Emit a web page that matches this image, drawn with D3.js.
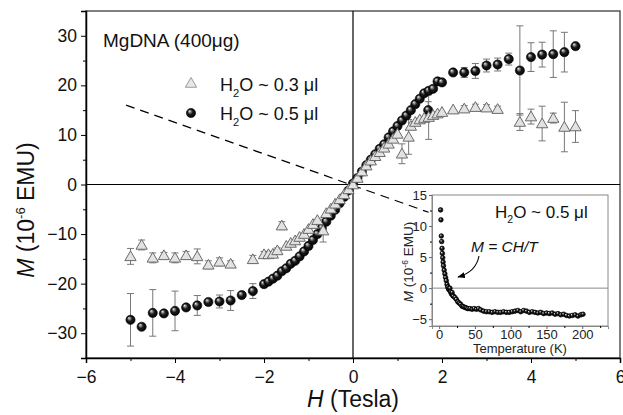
<!DOCTYPE html>
<html>
<head>
<meta charset="utf-8">
<script src="https://cdn.jsdelivr.net/npm/d3@7"></script>
<style>
  body { margin: 0; background: #fff; }
  svg { display: block; font-family: "Liberation Sans", Arial, sans-serif; }
</style>
</head>
<body>
<svg id="chart" width="623" height="415"></svg>
<script>
// ---- data: H2O ~ 0.5 ul (spheres) ----
const ballH = [-5, -4.75, -4.5, -4.25, -4, -3.75, -3.5, -3.25, -3, -2.75, -2.5, -2.25, -2,
  -1.9, -1.8, -1.7, -1.6, -1.5, -1.4, -1.3, -1.2, -1.1, -1, -0.9, -0.8, -0.7, -0.6, -0.5,
  -0.4, -0.3, -0.2, -0.1, 0, 0.1, 0.2, 0.3, 0.4, 0.5, 0.6, 0.7, 0.8, 0.9, 1, 1.1, 1.2, 1.3,
  1.4, 1.5, 1.6, 1.69, 1.7, 1.8, 1.9, 2, 2.25, 2.5, 2.75, 3, 3.25, 3.5, 3.75, 4, 4.25, 4.5,
  4.75, 5];
const ballM = [-27.3, -28.7, -25.9, -26.0, -25.5, -24.8, -24.4, -23.7, -23.6, -23.4, -22.3, -21.5, -20.1,
  -19.6, -19.0, -18.4, -17.5, -16.9, -16.0, -15.4, -14.5, -13.5, -12.4, -11.2, -10.0, -8.8, -7.5, -6.3,
  -5.1, -3.8, -2.5, -1.2, 0.2, 1.3, 2.6, 3.9, 5.0, 6.1, 7.2, 8.1, 9.5, 10.7, 11.8, 12.9, 13.9, 15.0,
  16.2, 17.3, 18.4, 15.0, 18.9, 19.3, 20.8, 20.6, 22.6, 22.6, 22.9, 24.0, 24.2, 25.3, 23.0, 25.7, 26.2, 26.3,
  26.7, 27.9];
const ballErr = [5.3, 0, 4.7, 0, 4.0, 0, 2.0, 0, 1.3, 2.0, 0, 1.5, 0,
  0, 0, 0, 0, 0, 0, 0, 0, 0, 0, 0, 0, 0, 0, 0,
  0, 0, 0, 0, 0, 0, 0, 0, 0, 0, 0, 0, 0, 0, 0, 0, 0, 0,
  0, 0, 0, 1.7, 0, 0, 0, 0, 0, 1.0, 1.5, 1.3, 1.3, 1.2, 9.0, 2.9, 2.5, 4.7,
  4.0, 0];

// ---- data: H2O ~ 0.3 ul (triangles) ----
const triH = [-5, -4.75, -4.5, -4.25, -4, -3.75, -3.5, -3.25, -3, -2.75, -2.25, -2, -1.9, -1.8,
  -1.7, -1.6, -1.5, -1.4, -1.3, -1.2, -1.1, -1, -0.9, -0.8, -0.67, -0.6, -0.5, -0.4, -0.3, -0.2,
  -0.1, 0, 0.1, 0.2, 0.3, 0.4, 0.5, 0.6, 0.7, 0.8, 0.9, 1, 1.1, 1.25, 1.3, 1.4, 1.5, 1.6, 1.7,
  1.8, 1.9, 2, 2.25, 2.5, 2.75, 3, 3.25, 3.75, 4, 4.25, 4.5, 4.75, 5];
const triM = [-14.5, -12.2, -14.8, -14.3, -14.8, -14.3, -14.5, -16.2, -15.6, -16.0, -15.1, -14.1, -14.1, -14.0,
  -13.3, -8.3, -12.4, -11.8, -11.3, -10.6, -10.0, -9.0, -8.0, -7.2, -9.3, -5.8, -4.9, -3.9, -3.0, -2.0,
  -1.0, 0.0, 1.3, 2.6, 3.8, 4.8, 5.7, 6.5, 7.4, 8.2, 9.2, 10.2, 6.2, 9.6, 11.8, 12.6, 13.1, 13.4, 13.6,
  14.0, 14.3, 14.6, 15.1, 15.3, 15.6, 15.5, 15.2, 12.6, 13.7, 12.3, 13.4, 11.6, 11.7];
const triErr = [1.6, 1.0, 1.0, 0.6, 1.0, 0.8, 1.5, 0.8, 0.8, 0.6, 0.8, 0.6, 0.6, 0,
  0.5, 0.8, 0, 0, 0, 0, 0, 0, 0, 0, 2.3, 0, 0, 0, 0, 0,
  0, 0, 0, 0, 0, 0, 0, 0, 0, 0, 0, 0, 2.0, 3.5, 0, 0, 0, 0, 4.5,
  0, 0, 0, 0, 0.6, 0.6, 0.6, 0.6, 1.7, 1.5, 3.5, 1.0, 5.0, 3.2];

// ---- inset: M vs temperature ----
const insetT = [2, 2.5, 3, 3.5, 4, 4.5, 5, 5.5, 6, 7, 8, 9, 10, 11, 12, 13, 14, 15, 16, 17, 18,
  19, 20, 22, 24, 26, 28, 30, 32, 34, 36, 38, 40, 43, 46, 49, 52, 55, 58, 62, 66, 70, 74, 78,
  82, 86, 90, 94, 98, 102, 106, 110, 114, 118, 122, 126, 130, 134, 138, 142, 146, 150, 154,
  158, 162, 166, 170, 174, 178, 182, 186, 190, 194, 198, 201];
const insetM = [12.6, 11.0, 8.4, 7.5, 6.4, 5.6, 4.9, 4.2, 3.6, 2.9, 2.3, 1.7, 1.2, 0.6, 0.2, -0.1, -0.3,
  0.0, -0.6, -0.9, -0.7, -1.2, -1.3, -1.5, -1.8, -2.2, -2.4, -2.6, -2.9, -3.0, -3.1, -3.2, -3.3, -3.3, -3.4,
  -3.3, -3.4, -3.3, -3.5, -3.7, -3.8, -3.8, -3.9, -3.8, -3.9, -3.9, -3.8, -3.9, -3.9, -3.8, -3.7, -3.6,
  -3.8, -3.6, -3.7, -3.9, -3.8, -3.9, -4.0, -3.9, -4.1, -4.0, -4.1, -4.0, -4.2, -4.1, -4.3, -4.2, -4.4,
  -4.5, -4.4, -4.3, -4.5, -4.3, -4.2];

const xTicks = [-6, -4, -2, 0, 2, 4, 6];
const yTicks = [-30, -20, -10, 0, 10, 20, 30];
const insetXTicks = [0, 50, 100, 150, 200];
const insetYTicks = [-5, 0, 5, 10, 15];

const svg = d3.select("#chart");
const margin = { top: 11, right: 3, bottom: 57, left: 86 };
const W = 623, H = 415;
const FONT = "'Liberation Sans', Arial, sans-serif";

const x = d3.scaleLinear().domain([-6, 6]).range([margin.left, W - margin.right]);
const y = d3.scaleLinear().domain([-35, 35]).range([H - margin.bottom, margin.top]);

// sphere gradient
const defs = svg.append("defs");
const grad = defs.append("radialGradient").attr("id", "ball")
  .attr("cx", "50%").attr("cy", "50%").attr("r", "55%")
  .attr("fx", "32%").attr("fy", "28%");
grad.append("stop").attr("offset", "0%").attr("stop-color", "#f4f4f4");
grad.append("stop").attr("offset", "22%").attr("stop-color", "#8a8a8a");
grad.append("stop").attr("offset", "50%").attr("stop-color", "#1a1a1a");
grad.append("stop").attr("offset", "100%").attr("stop-color", "#000");

// frame
svg.append("rect")
  .attr("x", x(-6)).attr("y", y(35))
  .attr("width", x(6) - x(-6)).attr("height", y(-35) - y(35))
  .attr("fill", "none").attr("stroke", "#555").attr("stroke-width", 1.5);

// axes
svg.append("g")
  .attr("transform", `translate(0,${y(-35)})`)
  .call(d3.axisBottom(x).tickValues(xTicks).tickFormat(d3.format("d")).tickSize(5).tickPadding(8));
svg.append("g")
  .attr("transform", `translate(0,${y(-35)})`)
  .call(d3.axisBottom(x).tickValues([-5, -3, -1, 1, 3, 5]).tickFormat("").tickSize(3))
  .select(".domain").remove();
svg.append("g")
  .attr("transform", `translate(${x(-6)},0)`)
  .call(d3.axisLeft(y).tickValues(yTicks).tickFormat(d3.format("d")).tickSize(5).tickPadding(4));
svg.append("g")
  .attr("transform", `translate(${x(-6)},0)`)
  .call(d3.axisLeft(y).tickValues([-35, -25, -15, -5, 5, 15, 25, 35]).tickFormat("").tickSize(3))
  .select(".domain").remove();

svg.selectAll(".tick text").attr("font-size", 17.5).attr("fill", "#111")
  .attr("font-family", FONT);
svg.selectAll(".domain").attr("stroke", "#000").attr("stroke-width", 1.5);
svg.selectAll(".tick line").attr("stroke", "#000");

// zero lines
svg.append("line").attr("x1", x(-6)).attr("x2", x(6)).attr("y1", y(0)).attr("y2", y(0))
  .attr("stroke", "#000").attr("stroke-width", 1.2);
svg.append("line").attr("x1", x(0)).attr("x2", x(0)).attr("y1", y(35)).attr("y2", y(-35))
  .attr("stroke", "#000").attr("stroke-width", 1.2);

// dashed guide line
svg.append("line")
  .attr("x1", x(-5.1)).attr("y1", y(16.0))
  .attr("x2", x(1.7)).attr("y2", y(-5.6))
  .attr("stroke", "#000").attr("stroke-width", 1.3)
  .attr("stroke-dasharray", "9,6");

// error bars
function errBars(hs, ms, es) {
  const g = svg.append("g").attr("stroke", "#777").attr("stroke-width", 1);
  hs.forEach((h, i) => {
    if (!es[i]) return;
    const cx = x(h), y1 = y(ms[i] + es[i]), y2 = y(ms[i] - es[i]);
    g.append("line").attr("x1", cx).attr("x2", cx).attr("y1", y1).attr("y2", y2);
    g.append("line").attr("x1", cx - 3.5).attr("x2", cx + 3.5).attr("y1", y1).attr("y2", y1);
    g.append("line").attr("x1", cx - 3.5).attr("x2", cx + 3.5).attr("y1", y2).attr("y2", y2);
  });
}
errBars(ballH, ballM, ballErr);
errBars(triH, triM, triErr);

const tri = d3.symbol().type(d3.symbolTriangle).size(55);

// spheres
svg.append("g").selectAll("circle")
  .data(ballH.map((h, i) => ({ h, m: ballM[i] })))
  .join("circle")
  .attr("cx", d => x(d.h)).attr("cy", d => y(d.m)).attr("r", 4.6)
  .attr("fill", "url(#ball)").attr("stroke", "#000").attr("stroke-width", 0.6);

// triangles
svg.append("g").selectAll("path")
  .data(triH.map((h, i) => ({ h, m: triM[i] })))
  .join("path")
  .attr("d", tri)
  .attr("transform", d => `translate(${x(d.h)},${y(d.m) + 1})`)
  .attr("fill", "#e2e2e2").attr("stroke", "#6a6a6a").attr("stroke-width", 1);

// labels and legend
svg.append("text").attr("x", 103).attr("y", 47).attr("font-size", 19).attr("fill", "#111")
  .text("MgDNA (400μg)");

svg.append("path").attr("d", tri).attr("transform", "translate(191,84)")
  .attr("fill", "#e8e8e8").attr("stroke", "#9a9a9a").attr("stroke-width", 1);
svg.append("circle").attr("cx", 191).attr("cy", 113).attr("r", 4.6)
  .attr("fill", "url(#ball)").attr("stroke", "#000").attr("stroke-width", 0.6);

function waterLabel(xp, yp, txt, fs) {
  const t = svg.append("text").attr("x", xp).attr("y", yp).attr("font-size", fs).attr("fill", "#111");
  t.append("tspan").text("H");
  t.append("tspan").attr("font-size", fs * 0.62).attr("dy", fs * 0.32).text("2");
  t.append("tspan").attr("dy", -fs * 0.32).text("O ~ " + txt);
  return t;
}
waterLabel(220, 91, "0.3 μl", 18);
waterLabel(220, 120, "0.5 μl", 18);

// axis titles
const xt = svg.append("text").attr("x", x(0)).attr("y", 407).attr("text-anchor", "middle")
  .attr("font-size", 23).attr("fill", "#111");
xt.append("tspan").attr("font-style", "italic").text("H");
xt.append("tspan").text(" (Tesla)");

const yt = svg.append("text").attr("transform", "translate(34,210) rotate(-90)")
  .attr("text-anchor", "middle").attr("font-size", 23).attr("fill", "#111");
yt.append("tspan").attr("font-style", "italic").text("M");
yt.append("tspan").text(" (10");
yt.append("tspan").attr("font-size", 13).attr("dy", -9).text("-6");
yt.append("tspan").attr("dy", 9).text(" EMU)");

// ---- inset ----
const ix = d3.scaleLinear().domain([-10, 236]).range([432, 608]);
const iy = d3.scaleLinear().domain([-6.1, 15]).range([326, 195]);

svg.append("rect").attr("x", 432).attr("y", 195).attr("width", 176).attr("height", 131)
  .attr("fill", "#fff").attr("stroke", "#888").attr("stroke-width", 1);
svg.append("line").attr("x1", 432).attr("x2", 608).attr("y1", iy(0)).attr("y2", iy(0))
  .attr("stroke", "#888").attr("stroke-width", 1);

const ixAxis = svg.append("g").attr("transform", "translate(0,326)")
  .call(d3.axisBottom(ix).tickValues(insetXTicks).tickSize(3).tickPadding(1));
svg.append("g").attr("transform", "translate(0,326)")
  .call(d3.axisBottom(ix).tickValues([25, 75, 125, 175, 225]).tickFormat("").tickSize(2))
  .select(".domain").remove();
const iyAxis = svg.append("g").attr("transform", "translate(432,0)")
  .call(d3.axisLeft(iy).tickValues(insetYTicks).tickSize(3).tickPadding(2));
svg.append("g").attr("transform", "translate(432,0)")
  .call(d3.axisLeft(iy).tickValues([-2.5, 2.5, 7.5, 12.5]).tickFormat("").tickSize(2))
  .select(".domain").remove();
[ixAxis, iyAxis].forEach(a => {
  a.select(".domain").attr("stroke", "#888");
  a.selectAll(".tick line").attr("stroke", "#666");
  a.selectAll(".tick text").attr("font-size", 13).attr("fill", "#222")
    .attr("font-family", FONT);
});

svg.append("g").selectAll("circle")
  .data(insetT.map((t, i) => ({ t, m: insetM[i] })))
  .join("circle")
  .attr("cx", d => ix(d.t)).attr("cy", d => iy(d.m)).attr("r", 2.3)
  .attr("fill", "url(#ball)").attr("stroke", "#000").attr("stroke-width", 0.7);

svg.append("text").attr("x", 520).attr("y", 353).attr("text-anchor", "middle")
  .attr("font-size", 13).attr("fill", "#222").text("Temperature (K)");
const iyt = svg.append("text").attr("transform", "translate(413,262) rotate(-90)")
  .attr("text-anchor", "middle").attr("font-size", 13.5).attr("fill", "#222");
iyt.append("tspan").attr("font-style", "italic").text("M");
iyt.append("tspan").text(" (10");
iyt.append("tspan").attr("font-size", 8.5).attr("dy", -5).text("-6");
iyt.append("tspan").attr("dy", 5).text(" EMU)");

waterLabel(495, 218, "0.5 μl", 17);

svg.append("text").attr("x", 471).attr("y", 252).attr("font-size", 15.5).attr("font-style", "italic")
  .attr("fill", "#111").text("M = CH/T");

// curved arrow
defs.append("marker").attr("id", "arrow").attr("viewBox", "0 0 10 10")
  .attr("refX", 9).attr("refY", 5).attr("markerWidth", 7).attr("markerHeight", 7)
  .attr("orient", "auto")
  .append("path").attr("d", "M0,1 L10,5 L0,9 Z").attr("fill", "#000");
svg.append("path")
  .attr("d", "M479,256 Q476,272 458,277")
  .attr("fill", "none").attr("stroke", "#000").attr("stroke-width", 1.1)
  .attr("marker-end", "url(#arrow)");
</script>
</body>
</html>
